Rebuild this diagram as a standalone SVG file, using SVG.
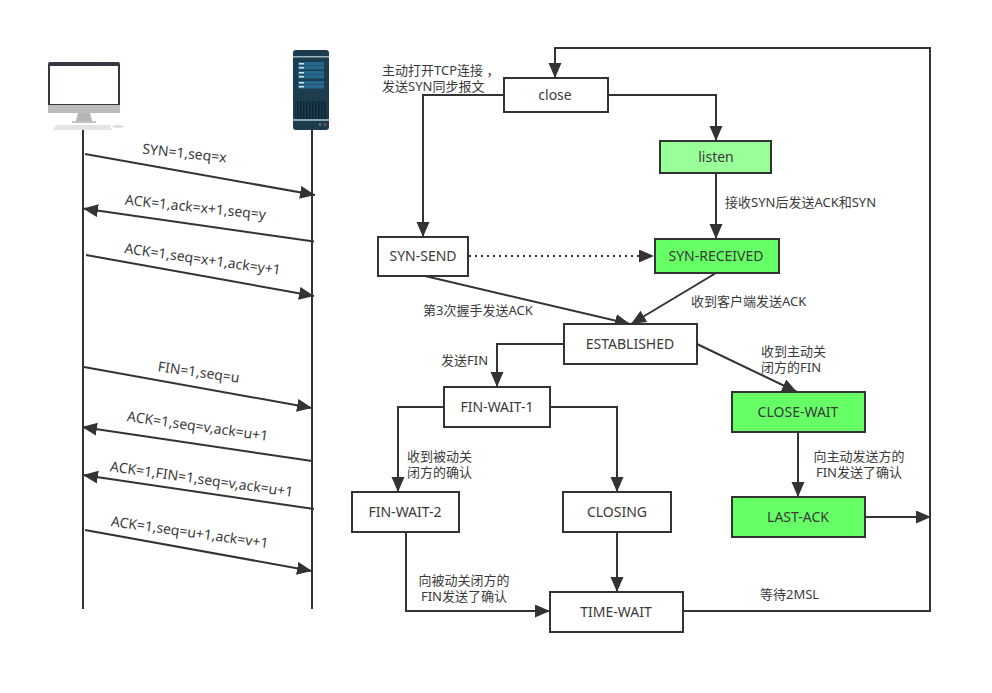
<svg xmlns="http://www.w3.org/2000/svg" width="992" height="693" viewBox="0 0 992 693">
<style>
text{font-family:"Noto Sans","Noto Sans CJK SC",sans-serif;font-size:13px;fill:#3a3a3a}
.c{text-anchor:middle}
.s,.t{font-size:14px}
.n{fill:#fff;stroke:#333;stroke-width:2}
.g{fill:#66ff66}
.l{fill:#99ff99}
.e{fill:none;stroke:#333;stroke-width:2}
.a{marker-end:url(#h)}
.d{stroke-dasharray:2 4}
</style>
<defs>
<marker id="h" markerUnits="userSpaceOnUse" markerWidth="16" markerHeight="14" refX="15" refY="6.500" orient="auto"><path d="M0 0L15 6.500L0 13Z" fill="#333"/></marker>
<pattern id="gr" width="3" height="18" patternUnits="userSpaceOnUse"><rect width="3" height="18" fill="#1d3c4e"/><rect width="1.500" height="18" fill="#0d2433"/></pattern>
</defs>
<rect width="992" height="693" fill="#fff"/>
<g id="client">
<rect x="48" y="62" width="72" height="51" rx="2" fill="#333844"/>
<rect x="50" y="66" width="68" height="38" fill="#fff"/>
<path d="M48 105H120V111Q120 113 118 113H50Q48 113 48 111Z" fill="#bcbcbc"/>
<path d="M78 113H90L92 121H76Z" fill="#b5b5b5"/>
<rect x="72" y="121" width="24" height="2" fill="#c4c4c4"/>
<path d="M56 125H110L112 130H53Z" fill="#e4e4e4"/>
<ellipse cx="118" cy="126.500" rx="6" ry="1.500" fill="#dddddd"/>
</g>
<g id="server">
<rect x="293" y="50" width="36" height="80" rx="3" fill="#1d3c4e"/>
<rect x="293" y="56" width="36" height="1.500" fill="#9fb4bf"/>
<g fill="#27688f">
<rect x="298" y="62" width="26" height="3.500"/><rect x="298" y="66" width="26" height="3.500"/>
<rect x="298" y="71" width="26" height="3.500"/><rect x="298" y="75" width="26" height="3.500"/>
<rect x="298" y="81" width="26" height="3.500"/><rect x="298" y="85" width="26" height="3.500"/>
</g>
<g fill="#cfe3ee">
<rect x="299" y="63" width="5" height="1.500"/><rect x="299" y="67" width="5" height="1.500"/>
<rect x="299" y="72" width="5" height="1.500"/><rect x="299" y="76" width="5" height="1.500"/>
<rect x="299" y="82" width="5" height="1.500"/><rect x="299" y="86" width="5" height="1.500"/>
</g>
<rect x="295" y="101" width="32" height="18" fill="url(#gr)"/>
<rect x="293" y="119" width="36" height="2" fill="#8fa5b0"/>
<circle cx="320" cy="124.500" r="1.300" fill="#2f9e6e"/>
<circle cx="325" cy="124.500" r="1.300" fill="#b0405a"/>
</g>
<g id="connectors">
<path class="e" d="M83 130V609"/>
<path class="e" d="M312 130V609"/>
<path class="e a" d="M85 154L315 195"/>
<path class="e a" d="M314 241.500L83 208.500"/>
<path class="e a" d="M86 255L314 296"/>
<path class="e a" d="M84 367L312 408"/>
<path class="e a" d="M312 461L82 427"/>
<path class="e a" d="M314 509L83 475"/>
<path class="e a" d="M85 530L312 571"/>
<path class="e a" d="M683 611H930V48H555V78"/>
<path class="e a" d="M608 95H716V141"/>
<path class="e a" d="M504 95H423V237"/>
<path class="e a" d="M716 173V239"/>
<path class="e a d" d="M469 256H654"/>
<path class="e a" d="M425 276L630 324"/>
<path class="e a" d="M716 273L631 324"/>
<path class="e a" d="M564 344H497V387"/>
<path class="e a" d="M697 344L797 392"/>
<path class="e a" d="M444 407H398V492"/>
<path class="e a" d="M550 407H617V492"/>
<path class="e a" d="M798 432V497"/>
<path class="e a" d="M865 517H931"/>
<path class="e a" d="M617 532V592"/>
<path class="e a" d="M406 532V611H550"/>
</g>
<g id="seq-labels">
<text class="c s" transform="translate(184 158) rotate(6)">SYN=1,seq=x</text>
<text class="c s" transform="translate(195 212) rotate(6)">ACK=1,ack=x+1,seq=y</text>
<text class="c s" transform="translate(202 264) rotate(8)">ACK=1,seq=x+1,ack=y+1</text>
<text class="c s" transform="translate(198 377) rotate(8)">FIN=1,seq=u</text>
<text class="c s" transform="translate(197 431) rotate(8)">ACK=1,seq=v,ack=u+1</text>
<text class="c s" transform="translate(201 484) rotate(8)">ACK=1,FIN=1,seq=v,ack=u+1</text>
<text class="c s" transform="translate(189 537) rotate(8)">ACK=1,seq=u+1,ack=v+1</text>
</g>
<g id="node-close"><rect class="n" x="504" y="78" width="104" height="34"/><text class="c t" x="555" y="100">close</text></g>
<g id="node-listen"><rect class="n l" x="660" y="141" width="111" height="32"/><text class="c t" x="716" y="162">listen</text></g>
<g id="node-syn-send"><rect class="n" x="378" y="237" width="90" height="39"/><text class="c t" x="423" y="261">SYN-SEND</text></g>
<g id="node-syn-received"><rect class="n g" x="655" y="239" width="124" height="34"/><text class="c t" x="716" y="261">SYN-RECEIVED</text></g>
<g id="node-established"><rect class="n" x="564" y="324" width="133" height="40"/><text class="c t" x="630" y="349">ESTABLISHED</text></g>
<g id="node-fin-wait-1"><rect class="n" x="444" y="387" width="106" height="40"/><text class="c t" x="497" y="412">FIN-WAIT-1</text></g>
<g id="node-close-wait"><rect class="n g" x="732" y="392" width="133" height="40"/><text class="c t" x="798" y="417">CLOSE-WAIT</text></g>
<g id="node-last-ack"><rect class="n g" x="732" y="497" width="133" height="40"/><text class="c t" x="798" y="522">LAST-ACK</text></g>
<g id="node-fin-wait-2"><rect class="n" x="352" y="492" width="107" height="40"/><text class="c t" x="405" y="517">FIN-WAIT-2</text></g>
<g id="node-closing"><rect class="n" x="563" y="492" width="108" height="40"/><text class="c t" x="617" y="517">CLOSING</text></g>
<g id="node-time-wait"><rect class="n" x="550" y="592" width="133" height="40"/><text class="c t" x="616" y="617">TIME-WAIT</text></g>
<g id="edge-labels">
<text><tspan x="382" y="75">主动打开TCP连接 ，</tspan><tspan x="382" y="91">发送SYN同步报文</tspan></text>
<text x="725" y="207">接收SYN后发送ACK和SYN</text>
<text x="423" y="315">第3次握手发送ACK</text>
<text x="691" y="306">收到客户端发送ACK</text>
<text x="441" y="365">发送FIN</text>
<text><tspan x="761" y="356">收到主动关</tspan><tspan x="761" y="372">闭方的FIN</tspan></text>
<text><tspan x="407" y="461">收到被动关</tspan><tspan x="407" y="477">闭方的确认</tspan></text>
<text class="c"><tspan x="464" y="585">向被动关闭方的</tspan><tspan x="464" y="601">FIN发送了确认</tspan></text>
<text class="c"><tspan x="859" y="461">向主动发送方的</tspan><tspan x="859" y="477">FIN发送了确认</tspan></text>
<text x="760" y="599">等待2MSL</text>
</g>
</svg>
